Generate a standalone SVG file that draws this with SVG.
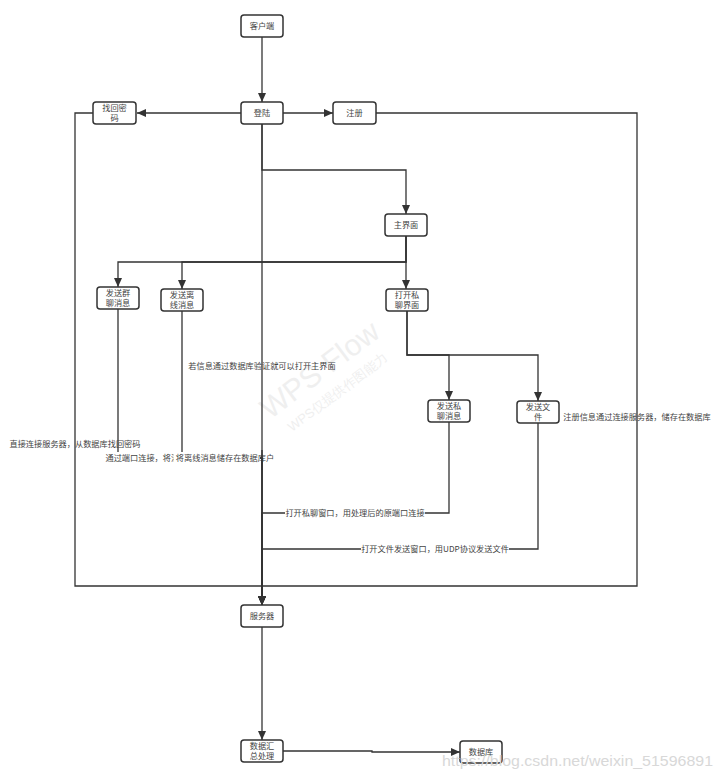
<svg xmlns="http://www.w3.org/2000/svg" width="720" height="778" viewBox="0 0 720 778">
<defs>
<marker id="arr" markerUnits="userSpaceOnUse" markerWidth="10" markerHeight="8" refX="9" refY="4" orient="auto">
<path d="M0,0 L9,4 L0,8 z" fill="#333"/>
</marker>
<style>
.node rect{fill:#fff;stroke:#333;stroke-width:1.5}
.node text,.lbl{font-family:"Noto Sans CJK SC","Liberation Sans",sans-serif;font-size:8.2px;fill:#444;text-anchor:middle}
.c{fill:none;stroke:#333;stroke-width:1.3;marker-end:url(#arr)}
.p{fill:none;stroke:#333;stroke-width:1.3}
.bg{fill:#fff}
.wm{font-family:"Liberation Sans",sans-serif;fill:#efefef}
</style>
</defs>
<rect width="720" height="778" fill="#fff"/>
<g id="watermark">
<text class="wm" x="0" y="0" font-size="30" transform="translate(270,420) rotate(-37)">WPS Flow</text>
<text class="wm" x="0" y="0" font-size="13" font-family="Noto Sans CJK SC" transform="translate(292,432) rotate(-37)">WPS仅提供作图能力</text>
</g>
<g id="connectors">
<path class="c" d="M262 37 V102"/>
<path class="c" d="M241 113 H137"/>
<path class="c" d="M283 113 H333"/>
<path class="c" d="M93 113 H75 V586 H262 V605"/>
<path class="c" d="M376 113 H637 V586 H262 V605"/>
<path class="c" d="M262 124 V170 H406 V214"/>
<path class="c" d="M262 124 V605" stroke-width="1.8"/>
<path class="c" d="M406 236 V262 H118 V287"/>
<path class="c" d="M406 236 V262 H182 V289"/>
<path class="c" d="M406 236 V289"/>
<path class="c" d="M407 311 V355 H449 V400"/>
<path class="c" d="M407 311 V355 H538 V401"/>
<path class="c" d="M449 422 V513 H262 V605"/>
<path class="c" d="M538 423 V549 H262 V605"/>
<path class="c" d="M118 309 V458 H262 V605"/>
<path class="c" d="M182 311 V458 H262 V605"/>
<path class="c" d="M262 627 V740"/>
<path class="c" d="M283 751 H372 V752 H460"/>
</g>
<g id="labels">
<text class="lbl" x="75" y="447">直接连接服务器，从数据库找回密码</text>
<rect class="bg" x="100" y="452" width="160" height="12"/>
<text class="lbl" x="171" y="461">通过端口连接，将消息储存在数据库</text>
<rect class="bg" x="174" y="452" width="86" height="12"/>
<text class="lbl" x="225" y="461">将离线消息储存在数据库户</text>
<text class="lbl" x="262" y="369">若信息通过数据库验证就可以打开主界面</text>
<text class="lbl" x="637" y="420">注册信息通过连接服务器，储存在数据库</text>
<rect class="bg" x="285" y="507" width="140" height="12"/>
<text class="lbl" x="355" y="516">打开私聊窗口，用处理后的原端口连接</text>
<rect class="bg" x="361" y="543" width="148" height="12"/>
<text class="lbl" x="435" y="552">打开文件发送窗口，用UDP协议发送文件</text>
<path class="p" d="M262 450 V470" stroke-width="1.8"/>
</g>
<g id="n-client" class="node"><rect x="241" y="15" width="42" height="22" rx="3"/><text x="262" y="29">客户端</text></g>
<g id="n-login" class="node"><rect x="241" y="102" width="42" height="22" rx="3"/><text x="262" y="116">登陆</text></g>
<g id="n-findpwd" class="node"><rect x="93" y="102" width="43" height="22" rx="3"/><text x="114.5" y="111">找回密</text><text x="114.5" y="121">码</text></g>
<g id="n-register" class="node"><rect x="333" y="102" width="43" height="22" rx="3"/><text x="354.5" y="116">注册</text></g>
<g id="n-main" class="node"><rect x="385" y="214" width="42" height="22" rx="3"/><text x="406" y="228">主界面</text></g>
<g id="n-group" class="node"><rect x="97" y="287" width="42" height="22" rx="3"/><text x="118" y="296">发送群</text><text x="118" y="306">聊消息</text></g>
<g id="n-offline" class="node"><rect x="161" y="289" width="42" height="22" rx="3"/><text x="182" y="298">发送离</text><text x="182" y="308">线消息</text></g>
<g id="n-private" class="node"><rect x="386" y="289" width="42" height="22" rx="3"/><text x="407" y="298">打开私</text><text x="407" y="308">聊界面</text></g>
<g id="n-pmsg" class="node"><rect x="428" y="400" width="42" height="22" rx="3"/><text x="449" y="409">发送私</text><text x="449" y="419">聊消息</text></g>
<g id="n-file" class="node"><rect x="517" y="401" width="42" height="22" rx="3"/><text x="538" y="410">发送文</text><text x="538" y="420">件</text></g>
<g id="n-server" class="node"><rect x="241" y="605" width="42" height="22" rx="3"/><text x="262" y="619">服务器</text></g>
<g id="n-summary" class="node"><rect x="241" y="740" width="42" height="22" rx="3"/><text x="262" y="749">数据汇</text><text x="262" y="759">总处理</text></g>
<g id="n-db" class="node"><rect x="460" y="741" width="42" height="22" rx="3"/><text x="481" y="755">数据库</text></g>
<text x="442" y="766" font-family="Liberation Sans, sans-serif" font-size="15" fill="#d8d8d8" textLength="271" lengthAdjust="spacingAndGlyphs">https://blog.csdn.net/weixin_51596891</text>
</svg>
